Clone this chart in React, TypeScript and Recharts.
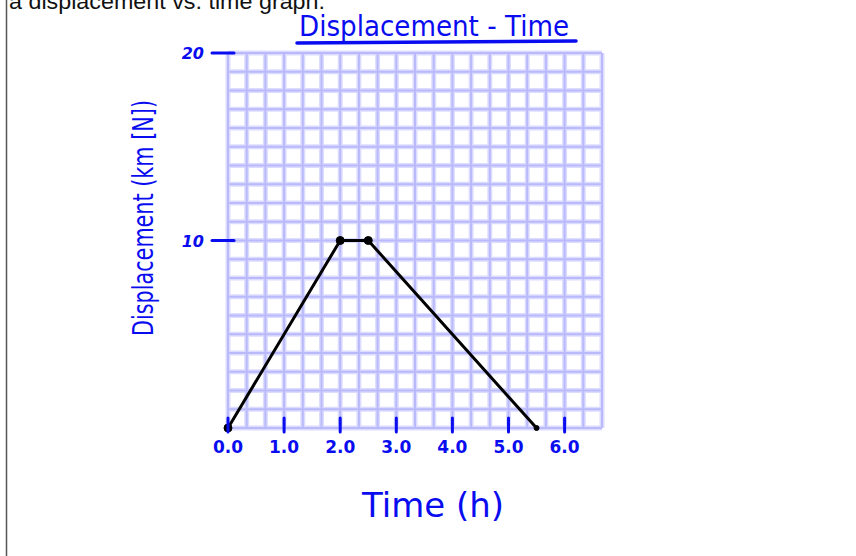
import React from "react";
import { LineChart, Line, XAxis, YAxis, CartesianGrid, Label } from "recharts";

// Trip readings: time in hours, displacement in km [N]
const times = [0, 2.0, 2.5, 5.5];
const displacements = [0, 10, 10, 0];

// Labelled hour marks and displacement marks
const hourTicks = [0, 1, 2, 3, 4, 5, 6];
const hourLabels = ["0.0", "1.0", "2.0", "3.0", "4.0", "5.0", "6.0"];
const kmTicks = [10, 20];

// Graph paper: 20 x 20 squares, three squares per hour, one per km
const squares = 20;
const squaresPerHour = 3;
const xMax = squares / squaresPerHour;
const yMax = 20;
const gridX = Array.from({ length: squares + 1 }, (_, i) => i / squaresPerHour);
const gridY = Array.from({ length: squares + 1 }, (_, i) => i);

const data = times.map((t, i) => ({ t, d: displacements[i] }));

const INK = "#0a0cf0";
const HAND = "'DejaVu Sans', 'Noto Sans', sans-serif";

const isHour = (v: number) => Math.abs(v - Math.round(v)) < 1e-6;

const HourTick = (props: any) => {
  const { x, y, payload } = props;
  const v = payload.value as number;
  if (!isHour(v)) return null;
  const idx = hourTicks.indexOf(Math.round(v));
  if (idx < 0) return null;
  return (
    <g>
      <line x1={x} y1={y - 10} x2={x} y2={y + 4} stroke={INK} strokeWidth={3} strokeLinecap="round" />
      <text
        x={x}
        y={y + 25}
        textAnchor="middle"
        fill={INK}
        fontFamily={HAND}
        fontWeight="bold"
        fontSize={17}
      >
        {hourLabels[idx]}
      </text>
    </g>
  );
};

const KmTick = (props: any) => {
  const { x, y, payload } = props;
  const v = payload.value as number;
  if (!kmTicks.includes(v)) return null;
  return (
    <g>
      <line x1={x - 16} y1={y} x2={x + 6} y2={y} stroke={INK} strokeWidth={3} strokeLinecap="round" />
      <text
        x={x - 24}
        y={y + 6}
        textAnchor="end"
        fill={INK}
        fontFamily={HAND}
        fontWeight="bold"
        fontStyle="italic"
        fontSize={16}
      >
        {v}
      </text>
    </g>
  );
};

const PointDot = (props: any) => {
  const { cx, cy, index } = props;
  const r = index === data.length - 1 ? 2.5 : 4;
  return <circle key={index} cx={cx} cy={cy} r={r} fill="#000" stroke="#000" />;
};

const YTitle = (props: any) => {
  const { viewBox } = props;
  const cx = 143;
  const cy = viewBox.y + 165;
  return (
    <text
      x={cx}
      y={cy}
      transform={`rotate(-90 ${cx} ${cy})`}
      textAnchor="middle"
      dominantBaseline="central"
      fill={INK}
      fontFamily={HAND}
      fontSize={28}
      textLength={236}
      lengthAdjust="spacingAndGlyphs"
    >
      Displacement (km [N])
    </text>
  );
};

const XTitle = (props: any) => {
  const { viewBox } = props;
  const cx = viewBox.x + 205;
  return (
    <text
      x={cx}
      y={517}
      textAnchor="middle"
      fill={INK}
      fontFamily={HAND}
      fontSize={34}
      textLength={142}
      lengthAdjust="spacingAndGlyphs"
    >
      Time (h)
    </text>
  );
};

export default function App() {
  return (
    <div style={{ position: "absolute", left: 0, top: 0, width: 856, height: 556, background: "#fff" }}>
      <LineChart
        width={856}
        height={556}
        data={data}
        margin={{ top: 53, right: 254, bottom: 88, left: 0 }}
      >
        <CartesianGrid stroke="#dcdcff" strokeWidth={5} />
        <CartesianGrid stroke="#b9b9fb" strokeWidth={2} />
        <XAxis
          dataKey="t"
          type="number"
          domain={[0, xMax]}
          ticks={gridX}
          interval={0}
          axisLine={false}
          tickLine={false}
          tickSize={0}
          tickMargin={0}
          height={40}
          tick={<HourTick />}
        >
          <Label content={<XTitle />} />
        </XAxis>
        <YAxis
          dataKey="d"
          type="number"
          domain={[0, yMax]}
          ticks={gridY}
          interval={0}
          axisLine={false}
          tickLine={false}
          tickSize={0}
          tickMargin={0}
          width={228}
          tick={<KmTick />}
        >
          <Label content={<YTitle />} />
        </YAxis>
        <Line
          type="linear"
          dataKey="d"
          stroke="#000"
          strokeWidth={3}
          dot={<PointDot />}
          activeDot={false}
          isAnimationActive={false}
        />
      </LineChart>
      <svg
        width={856}
        height={556}
        style={{ position: "absolute", left: 0, top: 0, pointerEvents: "none" }}
      >
        <line x1={6.5} y1={0} x2={6.5} y2={556} stroke="#555" strokeWidth={1.5} />
        <text
          x={9}
          y={9}
          fill="#111"
          fontFamily="'Liberation Sans', Arial, sans-serif"
          fontSize={22}
          textLength={316}
          lengthAdjust="spacingAndGlyphs"
        >
          a displacement vs. time graph.
        </text>
        <text
          x={299}
          y={36}
          fill={INK}
          fontFamily={HAND}
          fontSize={28}
          textLength={270}
          lengthAdjust="spacingAndGlyphs"
        >
          Displacement - Time
        </text>
        <line x1={297} y1={43} x2={576} y2={41} stroke={INK} strokeWidth={3.5} strokeLinecap="round" />
      </svg>
    </div>
  );
}
